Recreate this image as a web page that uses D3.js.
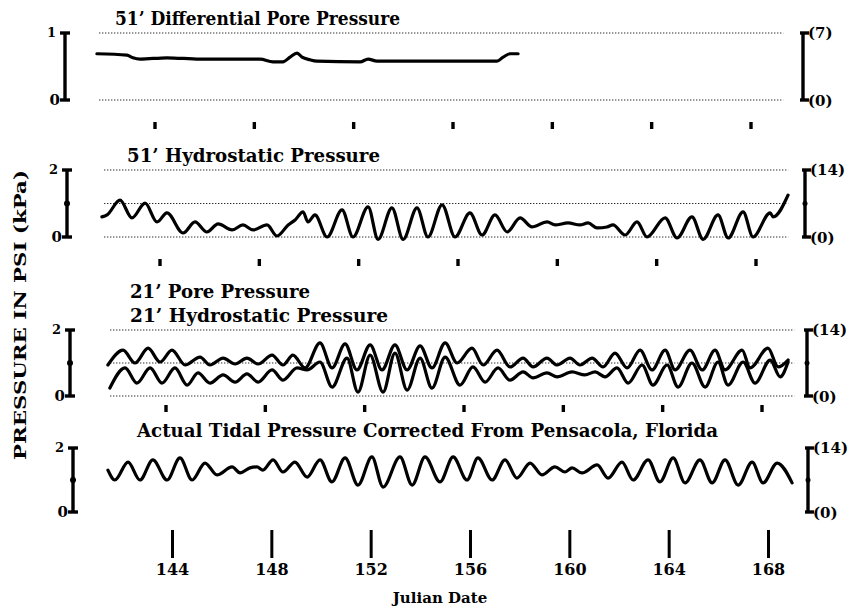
<!DOCTYPE html>
<html>
<head>
<meta charset="utf-8">
<script src="https://cdn.jsdelivr.net/npm/d3@7"></script>
<style>
  body { margin: 0; background: #fff; }
  svg text { font-family: "DejaVu Serif", "Liberation Serif", serif; font-weight: bold; fill: #000; }
  .grid { stroke: #111; stroke-width: 1.2; stroke-dasharray: 1.2,1.8; }
  .trace { fill: none; stroke: #000; stroke-width: 3.2; stroke-linejoin: round; stroke-linecap: round; }
  .bar { stroke: #000; stroke-width: 3.4; }
</style>
</head>
<body>
<svg width="859" height="608"></svg>
<script>
// ticks along the date axis (Julian day)
var dayTicks = [144, 148, 152, 156, 160, 164, 168];

// 51' differential pore pressure (psi)
var dpDays = [141.66, 142.87, 143.11, 143.40, 144.48, 145.81, 148.23, 148.75, 149.15, 149.44, 149.72, 149.92,
  150.24, 150.52, 152.26, 152.58, 152.94, 155.08, 157.77, 158.02, 158.30, 158.62];
var dpVals = [0.69, 0.67, 0.63, 0.61, 0.63, 0.61, 0.61, 0.57, 0.57, 0.64, 0.70, 0.64,
  0.60, 0.58, 0.57, 0.61, 0.58, 0.58, 0.58, 0.64, 0.69, 0.69];

// 51' hydrostatic pressure (psi)
var hs51Days = [141.66, 141.87, 142.39, 142.87, 143.40, 143.88, 144.28, 144.93, 145.41, 145.89, 146.34, 146.90,
  147.34, 147.75, 148.31, 148.71, 149.16, 149.44, 149.76, 149.96, 150.24, 150.73, 151.33, 151.77,
  152.38, 152.78, 153.34, 153.79, 154.35, 154.79, 155.36, 155.88, 156.48, 156.97, 157.49, 157.98,
  158.50, 158.98, 159.59, 159.91, 160.43, 160.91, 161.24, 161.60, 162.00, 162.24, 162.73, 163.21,
  163.61, 164.34, 164.82, 165.42, 165.87, 166.47, 166.88, 167.48, 167.88, 168.57, 168.69, 169.29];
var hs51Vals = [0.60, 0.66, 1.10, 0.57, 1.01, 0.45, 0.72, 0.12, 0.45, 0.15, 0.39, 0.21,
  0.36, 0.21, 0.36, 0.03, 0.36, 0.51, 0.75, 0.45, 0.66, 0.00, 0.81, 0.00,
  0.90, -0.07, 0.87, -0.07, 0.87, 0.00, 0.96, 0.00, 0.72, 0.06, 0.66, 0.15,
  0.57, 0.30, 0.45, 0.36, 0.42, 0.36, 0.42, 0.27, 0.30, 0.36, 0.06, 0.45,
  0.00, 0.57, -0.03, 0.60, -0.07, 0.66, -0.03, 0.75, 0.00, 0.72, 0.60, 1.25];

// 21' pore pressure (psi)
var pore21Days = [141.66, 142.27, 142.75, 143.28, 143.76, 144.24, 144.77, 145.37, 145.77, 146.30, 146.78, 147.26,
  147.71, 148.27, 148.71, 149.11, 149.60, 150.20, 150.69, 151.21, 151.69, 152.22, 152.70, 153.22,
  153.71, 154.23, 154.71, 155.24, 155.72, 156.32, 156.77, 157.33, 157.85, 158.38, 158.78, 159.34,
  159.75, 160.27, 160.67, 161.16, 161.60, 162.08, 162.57, 163.09, 163.57, 164.10, 164.50, 165.10,
  165.59, 166.11, 166.51, 167.20, 167.52, 168.24, 168.65, 169.05];
var pore21Vals = [0.94, 1.39, 1.00, 1.45, 1.03, 1.39, 0.94, 1.18, 0.94, 1.15, 0.97, 1.15,
  0.97, 1.24, 0.94, 1.24, 0.85, 1.61, 0.85, 1.58, 0.79, 1.55, 0.79, 1.55,
  0.79, 1.52, 0.85, 1.61, 1.00, 1.45, 0.94, 1.39, 0.88, 1.15, 0.88, 1.15,
  0.94, 1.15, 0.94, 1.15, 0.88, 1.30, 0.85, 1.39, 0.79, 1.39, 0.79, 1.39,
  0.79, 1.39, 0.79, 1.39, 0.85, 1.45, 0.88, 1.09];

// 21' hydrostatic pressure (psi)
var hs21Days = [141.74, 142.35, 142.83, 143.36, 143.84, 144.36, 144.85, 145.29, 145.77, 146.30, 146.78, 147.26,
  147.71, 148.27, 148.71, 149.28, 149.68, 150.20, 150.69, 151.29, 151.73, 152.22, 152.74, 153.22,
  153.71, 154.23, 154.71, 155.24, 155.84, 156.36, 156.85, 157.37, 157.85, 158.38, 158.78, 159.34,
  159.75, 160.35, 160.87, 161.28, 161.68, 162.16, 162.61, 163.17, 163.61, 164.18, 164.62, 165.18,
  165.71, 166.23, 166.63, 167.24, 167.72, 168.33, 168.73, 169.05];
var hs21Vals = [0.24, 0.85, 0.39, 0.85, 0.39, 0.85, 0.33, 0.70, 0.39, 0.64, 0.42, 0.67,
  0.42, 0.79, 0.48, 0.85, 0.79, 1.03, 0.27, 1.15, 0.12, 1.24, 0.12, 1.30,
  0.18, 1.15, 0.24, 1.18, 0.33, 0.88, 0.42, 0.85, 0.48, 0.73, 0.55, 0.70,
  0.58, 0.73, 0.64, 0.73, 0.58, 0.85, 0.39, 0.94, 0.33, 0.94, 0.27, 1.00,
  0.27, 1.03, 0.33, 1.03, 0.39, 1.09, 0.58, 1.03];

// actual tidal pressure, Pensacola (psi)
var tideDays = [141.42, 141.70, 142.23, 142.71, 143.23, 143.80, 144.32, 144.81, 145.33, 145.81, 146.42, 146.74,
  147.14, 147.42, 147.66, 148.07, 148.47, 148.95, 149.44, 149.96, 150.44, 150.97, 151.49, 152.05,
  152.50, 153.18, 153.67, 154.19, 154.79, 155.32, 155.88, 156.32, 156.89, 157.41, 157.89, 158.42,
  158.90, 159.42, 159.83, 160.11, 160.51, 161.12, 161.56, 162.12, 162.57, 163.17, 163.65, 164.18,
  164.66, 165.26, 165.75, 166.27, 166.80, 167.36, 167.80, 168.37, 168.97];
var tideVals = [1.31, 1.00, 1.56, 1.00, 1.63, 1.00, 1.69, 1.00, 1.53, 1.16, 1.41, 1.22,
  1.38, 1.41, 1.31, 1.63, 1.25, 1.56, 1.09, 1.63, 0.94, 1.69, 0.84, 1.72,
  0.78, 1.72, 0.84, 1.72, 0.94, 1.72, 1.00, 1.69, 1.00, 1.63, 1.06, 1.53,
  1.16, 1.41, 1.25, 1.38, 1.22, 1.47, 1.06, 1.56, 1.00, 1.63, 0.94, 1.69,
  0.91, 1.63, 0.91, 1.63, 0.84, 1.56, 0.91, 1.53, 0.91];

function zip(days, vals) {
  return days.map(function(d, i) { return {day: d, v: vals[i]}; });
}

var svg = d3.select('svg');

var xScale = d3.scaleLinear().domain([144, 168]).range([172, 768]);

// layout of the four stacked strips (scan offsets kept per strip)
var panels = [
  {title: ['51\u2019 Differential Pore Pressure'], titleY: [25], titleX: 115, titleW: [285],
   top: 33, bottom: 100, max: 1, right: '(7)', shift: -17, axisX: 65, rightX: 803, grid: [0, 1], mid: false,
   tickY: 122, series: [zip(dpDays, dpVals)]},
  {title: ['51\u2019 Hydrostatic Pressure'], titleY: [162], titleX: 127, titleW: [253],
   top: 170, bottom: 237, max: 2, right: '(14)', shift: -12, axisX: 67, rightX: 805, grid: [0, 1, 2], mid: true,
   tickY: 259, series: [zip(hs51Days, hs51Vals)]},
  {title: ['21\u2019 Pore Pressure', '21\u2019 Hydrostatic Pressure'], titleY: [298, 322], titleX: 130, titleW: [180, 258],
   top: 330, bottom: 396, max: 2, right: '(14)', shift: -6, axisX: 70, rightX: 807, grid: [0, 1, 2], mid: true,
   tickY: 405, series: [zip(pore21Days, pore21Vals), zip(hs21Days, hs21Vals)]},
  {title: ['Actual Tidal Pressure Corrected From Pensacola, Florida'], titleY: [437], titleX: 137, titleW: [581],
   top: 448, bottom: 512, max: 2, right: '(14)', shift: 0, axisX: 73, rightX: 808, grid: [], mid: true,
   tickY: null, series: [zip(tideDays, tideVals)]}
];

panels.forEach(function(p) {
  var y = d3.scaleLinear().domain([0, p.max]).range([p.bottom, p.top]);
  var g = svg.append('g').attr('transform', 'translate(' + p.shift + ',0)');

  // dotted reference lines
  g.selectAll('.grid').data(p.grid).enter().append('line')
    .attr('class', 'grid')
    .attr('x1', xScale(141.75)).attr('x2', xScale(169.3))
    .attr('y1', function(d) { return y(d); }).attr('y2', function(d) { return y(d); });

  // traces
  var line = d3.line()
    .x(function(d) { return xScale(d.day); })
    .y(function(d) { return y(d.v); })
    .curve(d3.curveMonotoneX);
  p.series.forEach(function(s) {
    g.append('path').datum(s).attr('class', 'trace').attr('d', line);
  });

  // small day ticks below strip
  if (p.tickY !== null) {
    g.selectAll('.dt').data(dayTicks).enter().append('line')
      .attr('class', 'bar')
      .attr('x1', function(d) { return xScale(d); }).attr('x2', function(d) { return xScale(d); })
      .attr('y1', p.tickY).attr('y2', p.tickY + 7);
  }

  // titles
  p.title.forEach(function(t, i) {
    svg.append('text').text(t)
      .attr('x', p.titleX).attr('y', p.titleY[i])
      .attr('font-size', 18)
      .attr('textLength', p.titleW[i]).attr('lengthAdjust', 'spacingAndGlyphs');
  });

  // left psi bracket
  var la = svg.append('g');
  la.append('line').attr('class', 'bar')
    .attr('x1', p.axisX).attr('x2', p.axisX).attr('y1', y(p.max)).attr('y2', y(0));
  [p.max, 0].forEach(function(v) {
    la.append('line').attr('class', 'bar')
      .attr('x1', p.axisX - 5).attr('x2', p.axisX + 5).attr('y1', y(v)).attr('y2', y(v));
  });
  if (p.mid) {
    la.append('circle').attr('cx', p.axisX).attr('cy', y(p.max / 2)).attr('r', 3);
  }
  la.append('text').text(p.max).attr('x', p.axisX - 9).attr('y', y(p.max) + 4)
    .attr('text-anchor', 'end').attr('font-size', 13);
  la.append('text').text('0').attr('x', p.axisX - 5).attr('y', y(0) + 5)
    .attr('text-anchor', 'end').attr('font-size', 15);

  // right kPa bracket
  var ra = svg.append('g');
  ra.append('line').attr('class', 'bar')
    .attr('x1', p.rightX).attr('x2', p.rightX).attr('y1', y(p.max)).attr('y2', y(0));
  [p.max, 0].forEach(function(v) {
    ra.append('line').attr('class', 'bar')
      .attr('x1', p.rightX - 3).attr('x2', p.rightX + 6).attr('y1', y(v)).attr('y2', y(v));
  });
  if (p.mid) {
    ra.append('circle').attr('cx', p.rightX).attr('cy', y(p.max / 2)).attr('r', 2.5);
  }
  ra.append('text').text(p.right).attr('x', p.rightX + 5).attr('y', y(p.max) + 5).attr('font-size', 15);
  ra.append('text').text('(0)').attr('x', p.rightX + 5).attr('y', y(0) + 6).attr('font-size', 15);
});

// bottom date axis
var xAxis = d3.axisBottom(xScale).tickValues(dayTicks).tickSize(28).tickPadding(6);
var ax = svg.append('g').attr('transform', 'translate(0,530)').call(xAxis);
ax.select('.domain').remove();
ax.selectAll('.tick line').attr('stroke', '#000').attr('stroke-width', 3);
ax.selectAll('.tick text').attr('font-size', 16).attr('font-family', '"DejaVu Serif", serif')
  .attr('font-weight', 'bold').attr('fill', '#000');

svg.append('text').text('Julian Date')
  .attr('x', 440).attr('y', 603).attr('text-anchor', 'middle').attr('font-size', 15);

svg.append('text').text('PRESSURE IN PSI (kPa)')
  .attr('transform', 'translate(26,315) rotate(-90)')
  .attr('text-anchor', 'middle').attr('font-size', 16)
  .attr('textLength', 290).attr('lengthAdjust', 'spacingAndGlyphs');
</script>
</body>
</html>
